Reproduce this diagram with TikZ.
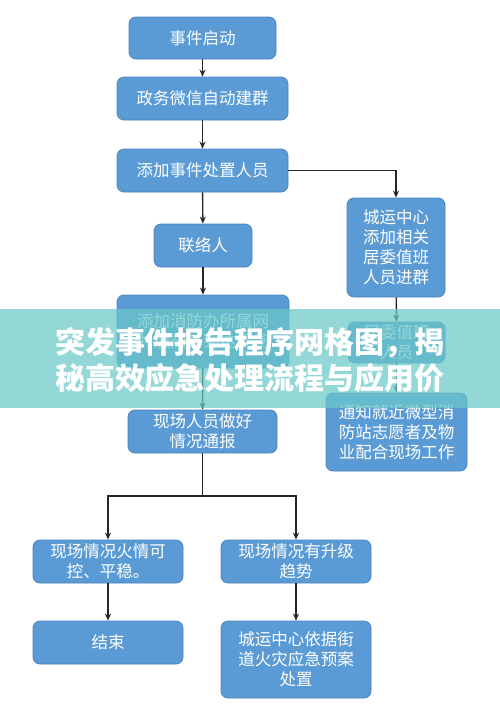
\documentclass[tikz,border=0pt]{standalone}
\usepackage{fontspec}
\newfontfamily\cjk{Noto Sans CJK SC}
\usetikzlibrary{arrows.meta}

\definecolor{boxblue}{HTML}{5B9BD5}
\definecolor{boxedge}{HTML}{4A84BC}
\definecolor{linegray}{HTML}{262626}
\definecolor{bannerteal}{RGB}{106,200,200}

\tikzset{
	stepbox/.style={rectangle, rounded corners=7pt, draw=boxedge, line width=0.8pt, fill=boxblue,
		text=white, align=center, inner sep=0pt, font=\cjk\fontsize{16.5}{20}\selectfont},
	flow/.style={draw=linegray, line width=1.4pt, -{Stealth[length=7pt,width=6pt]}},
	flowline/.style={draw=linegray, line width=1.4pt}
}

\begin{document}
\begin{tikzpicture}[x=1pt, y=-1pt]
		%%%%% START %%%%%
		\useasboundingbox (0, 0) rectangle (500, 718);
		
		% main column
		\node[stepbox, minimum width=147, minimum height=42] (start) at (202.5, 38) {事件启动};
		\node[stepbox, minimum width=171, minimum height=43] (group) at (202.5, 98.5) {政务微信自动建群};
		\node[stepbox, minimum width=171, minimum height=43] (staff) at (202.5, 170.5) {添加事件处置人员};
		\node[stepbox, minimum width=98, minimum height=43] (liaison) at (203, 245.5) {联络人};
		\node[stepbox, minimum width=172, minimum height=73] (fire) at (203, 331.5) {添加消防办所属网\\并通知其到达现场};
		\node[stepbox, minimum width=149, minimum height=43] (report) at (202.5, 431.5) {现场人员做好\\情况通报};
		
		% right column
		\node[stepbox, minimum width=98, minimum height=99] (cityrun) at (396, 247.5) {城运中心\\添加相关\\居委值班\\人员进群};
		\node[stepbox, minimum width=97, minimum height=41] (duty) at (396.5, 342.5) {居委值班\\人员};
		\node[stepbox, minimum width=141, minimum height=78] (notify) at (396.5, 432) {通知就近微型消\\防站志愿者及物\\业配合现场工作};
		
		% branches
		\node[stepbox, minimum width=150, minimum height=43] (calm) at (108, 561.5) {现场情况火情可\\控、平稳。};
		\node[stepbox, minimum width=150, minimum height=43] (escalate) at (296, 561.5) {现场情况有升级\\趋势};
		\node[stepbox, minimum width=150, minimum height=43] (finish) at (108, 642.5) {结束};
		\node[stepbox, minimum width=150, minimum height=77] (plan) at (296, 659.5) {城运中心依据街\\道火灾应急预案\\处置};
		
		\draw[flow] (start) -- (group);
		\draw[flow] (group) -- (staff);
		\draw[flow] (staff) -- (liaison);
		\draw[flow] (liaison) -- (fire);
		\draw[flow] (fire) -- (report);
		
		\draw[flow] (staff.east) -| (cityrun.north);
		\draw[flow] (cityrun) -- (duty);
		\draw[flow] (duty) -- (notify);
		
		\coordinate (fork) at (202.5, 496);
		\draw[flowline] (report) -- (fork);
		\draw[flow] (fork) -| (calm.north);
		\draw[flow] (fork) -| (escalate.north);
		\draw[flow] (calm) -- (finish);
		\draw[flow] (escalate) -- (plan);
		
		% title banner
		\fill[bannerteal, opacity=0.72] (0, 309) rectangle (500, 408);
		\node[text=white, align=center, inner sep=0pt, font=\cjk\bfseries\fontsize{30}{36}\selectfont] (title) at (250, 360)
			{突发事件报告程序网格图，揭\\秘高效应急处理流程与应用价};
		
		%%%%% END %%%%%
	\end{tikzpicture}
\end{document}
